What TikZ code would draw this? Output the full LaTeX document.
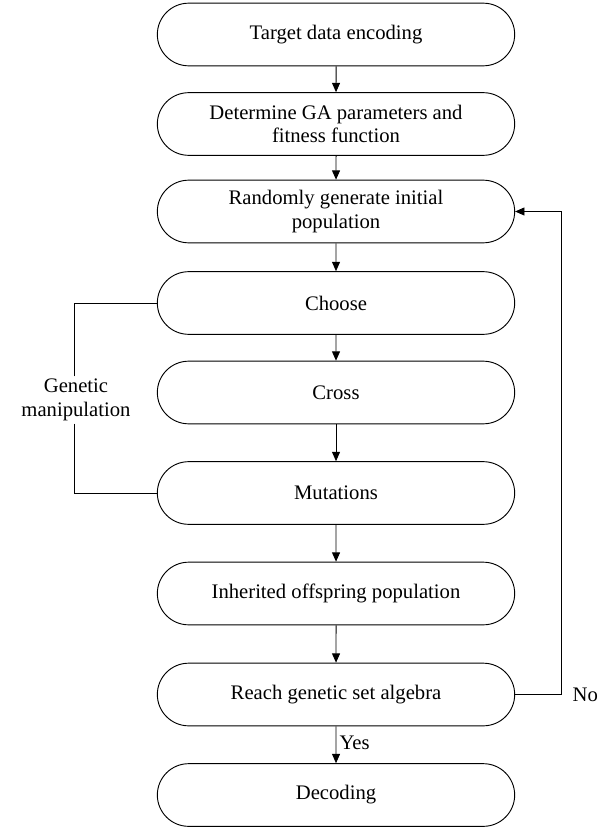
\documentclass[tikz,border=0pt]{standalone}
\usepackage{fontspec}
\setmainfont{Liberation Serif}
\usetikzlibrary{arrows.meta,shapes.misc}
\begin{document}
\begin{tikzpicture}[x=0.75pt,y=-0.75pt,
  box/.style={draw,rounded rectangle,minimum width=268pt,minimum height=47pt,inner sep=0pt,align=center,font=\fontsize{15.5}{17.5}\selectfont,line width=0.7pt},
  arr/.style={-{Triangle[length=7pt,width=6pt]},line width=0.7pt},
  ln/.style={line width=0.7pt},
  lbl/.style={font=\fontsize{15.5}{17.5}\selectfont,align=center}]
\useasboundingbox (0,0) rectangle (606,827);
\node[box] (b1) at (336,34.5) {Target data encoding};
\node[box] (b2) at (336,124) {Determine GA parameters and\\fitness function};
\node[box] (b3) at (336,211.5) {Randomly generate initial\\population};
\node[box] (b4) at (336,303) {Choose};
\node[box] (b5) at (336,392.5) {Cross};
\node[box] (b6) at (336,493) {Mutations};
\node[box] (b7) at (336,593.5) {Inherited offspring population};
\node[box] (b8) at (336,694.5) {Reach genetic set algebra};
\node[box] (b9) at (336,795) {Decoding};
\draw[arr] (b1) -- (b2);
\draw[arr] (b2) -- (b3);
\draw[arr] (b3) -- (b4);
\draw[arr] (b4) -- (b5);
\draw[arr] (b5) -- (b6);
\draw[arr] (b6) -- (b7);
\draw[arr] (b7) -- (b8);
\draw[arr] (b8) -- node[lbl,right,pos=0.45,xshift=-1pt] (yes) {Yes} (b9);
\coordinate (nr) at (561,694.5);
\coordinate (nt) at (561,211.5);
\draw[arr] (b8.east) -- (nr) -- (nt) -- (b3.east);
\node[lbl,anchor=west] (no) at (568,694.5) {No};
\node[lbl,inner sep=2pt] (gm) at (76,400) {Genetic\\manipulation};
\coordinate (g1) at (74,303);
\coordinate (g2) at (74,493);
\draw[ln] (gm.north -| g1) -- (g1) -- (b4.west);
\draw[ln] (gm.south -| g2) -- (g2) -- (b6.west);
\end{tikzpicture}
\end{document}
